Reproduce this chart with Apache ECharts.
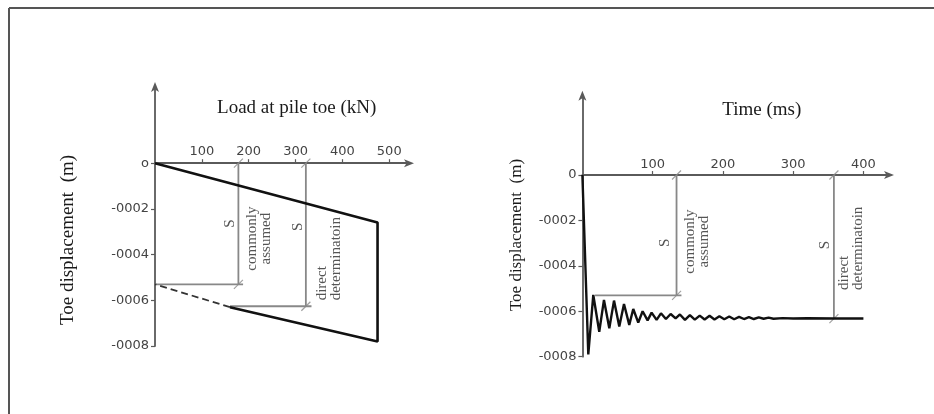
<!DOCTYPE html>
<html><head><meta charset="utf-8">
<script src="https://cdn.jsdelivr.net/npm/echarts@6/dist/echarts.min.js"></script>
<style>html,body{margin:0;padding:0;background:#fff}#c{width:934px;height:414px}</style>
</head><body><div id="c"></div>
<script>
// ---- data ----
const leftXTicks = [100, 200, 300, 400, 500];
const rightXTicks = [100, 200, 300, 400];
const yTickValues = [0, -0.0002, -0.0004, -0.0006, -0.0008];
const leftYLabels = ['o', '-0002', '-0004', '-0006', '-0008'];
const rightYLabels = ['0', '-0002', '-0004', '-0006', '-0008'];

// left chart: load at pile toe (kN) vs toe displacement (m)
const leftLoad = [0, 475, 475, 160];
const leftDisp = [0, -0.00026, -0.00078, -0.00063];
const leftDashLoad = [160, 0];
const leftDashDisp = [-0.00063, -0.00053];
// annotation guide lines (left)
const leftGuideA = [[178, 0], [178, -0.00053]];
const leftGuideB = [[0, -0.00053], [188, -0.00053]];
const leftGuideC = [[322, 0], [322, -0.000626]];
const leftGuideD = [[160, -0.000626], [334, -0.000626]];
const leftSlashes = [[178, 0], [178, -0.00053], [322, 0], [322, -0.000626]];

// right chart: time (ms) vs toe displacement (m)
const rightT = [0,1.5,8.4,15.5,24,30.7,38.3,45,52.5,59.2,66.7,72.4,79.5,85.7,92.8,98.5,105.6,111.8,118.9,125.6,132.7,138.8,146,153,160,167,174,181,188,195,202,209,216,223,230,237,244,251,258,265,272,285,300,320,358,400];
const rightV = [0,0,-0.00079,-0.000528,-0.00069,-0.00055,-0.000675,-0.000553,-0.000667,-0.000568,-0.00066,-0.00059,-0.00065,-0.0006,-0.00064,-0.000606,-0.000638,-0.000609,-0.000634,-0.000612,-0.000631,-0.000614,-0.000638,-0.000617,-0.000637,-0.000619,-0.000636,-0.00062,-0.000636,-0.000622,-0.000635,-0.000623,-0.000635,-0.000625,-0.000634,-0.000626,-0.000634,-0.000627,-0.000633,-0.000628,-0.000633,-0.00063,-0.000632,-0.000631,-0.000632,-0.000632];
const rightGuideA = [[134, 0], [134, -0.00053]];
const rightGuideB = [[18, -0.00053], [141, -0.00053]];
const rightGuideC = [[358, 0], [358, -0.000632]];
const rightSlashes = [[134, 0], [134, -0.00053], [358, 0], [358, -0.000632]];

// annotation texts: [x, y, text, align]
const leftNotes = [
  [160, -0.000264, 'S', 'center'],
  [222, -0.00033, 'commonly\nassumed', 'center'],
  [306, -0.000279, 'S', 'center'],
  [371, -0.0006, 'direct\ndeterminatoin', 'left']
];
const rightNotes = [
  [117.5, -0.000298, 'S', 'center'],
  [162.6, -0.000293, 'commonly\nassumed', 'center'],
  [345, -0.000308, 'S', 'center'],
  [381.8, -0.000506, 'direct\ndeterminatoin', 'left']
];

const leftXTitle = 'Load at pile toe (kN)';
const rightXTitle = 'Time (ms)';
const yTitle = 'Toe displacement  (m)';

// ---- chart ----
const SERIF = '"Liberation Serif","DejaVu Serif",serif';
const SANS = '"DejaVu Sans",sans-serif';
const axisCol = '#5a5a5a';
const guideCol = '#888';

const grids = [
  { left: 155, right: 526, top: 88, bottom: 68 },
  { left: 582.4, right: 46, top: 96.7, bottom: 57.3 }
];
const yMin = -0.0008;
const yMax = [0.000329, 0.000345];
function zeroOffset(i) {
  const h = 414 - grids[i].top - grids[i].bottom;
  return -(0 - yMin) / (yMax[i] - yMin) * h;
}

function yLabelFmt(labels) {
  return function (v) {
    const i = yTickValues.findIndex(t => Math.abs(t - v) < 1e-9);
    return i >= 0 ? labels[i] : '';
  };
}
function xAxisCfg(idx, max, ticks, margin) {
  return {
    type: 'value', gridIndex: idx, min: 0, max: max, interval: 100,
    position: 'bottom', offset: zeroOffset(idx),
    splitLine: { show: false },
    axisLine: { onZero: false, symbol: ['none', 'arrow'], symbolSize: [6, 10], symbolOffset: [0, 6],
      lineStyle: { color: axisCol, width: 1.8 } },
    axisTick: { inside: true, length: 4, customValues: ticks, lineStyle: { color: axisCol, width: 1.2 } },
    axisLabel: { inside: true, margin: margin, customValues: ticks, color: '#444', fontFamily: SANS, fontSize: 13 }
  };
}
function yAxisCfg(idx, labels) {
  return {
    type: 'value', gridIndex: idx, min: yMin, max: yMax[idx],
    splitLine: { show: false },
    axisLine: { show: true, onZero: false, symbol: ['none', 'arrow'], symbolSize: [6, 10], symbolOffset: [0, 6],
      lineStyle: { color: axisCol, width: 1.8 } },
    axisTick: { show: true, length: 4, customValues: yTickValues, lineStyle: { color: axisCol, width: 1.2 } },
    axisLabel: { margin: 6, customValues: yTickValues, formatter: yLabelFmt(labels), color: '#444', fontFamily: SANS, fontSize: 13 }
  };
}
function guide(idx, data) {
  return { type: 'line', xAxisIndex: idx, yAxisIndex: idx, data: data, symbol: 'none', silent: true,
    lineStyle: { color: guideCol, width: 1.8 }, z: 3 };
}
function slashes(idx, data) {
  return { type: 'scatter', xAxisIndex: idx, yAxisIndex: idx, data: data, silent: true,
    symbol: 'path://M0,10L10,0', symbolSize: 9,
    itemStyle: { color: 'rgba(0,0,0,0)', borderColor: guideCol, borderWidth: 1.2 }, z: 4 };
}
function notes(idx, list) {
  return { type: 'scatter', xAxisIndex: idx, yAxisIndex: idx, symbolSize: 0, silent: true,
    data: list.map(n => ({ value: [n[0], n[1]],
      label: { show: true, position: 'inside', rotate: 90, formatter: n[2], align: n[3], verticalAlign: 'middle',
        fontFamily: SERIF, fontSize: 15, lineHeight: 14, color: '#2a2a2a' } })),
    z: 5 };
}
const zip = (a, b) => a.map((v, i) => [v, b[i]]);

const chart = echarts.init(document.getElementById('c'), null, { renderer: 'canvas' });
chart.setOption({
  animation: false,
  backgroundColor: '#fff',
  grid: grids,
  xAxis: [xAxisCfg(0, 540, leftXTicks, 5), xAxisCfg(1, 435, rightXTicks, 4)],
  yAxis: [yAxisCfg(0, leftYLabels), yAxisCfg(1, rightYLabels)],
  graphic: [
    { type: 'line', shape: { x1: 9, y1: 8, x2: 934, y2: 8 }, style: { stroke: '#555', lineWidth: 2 } },
    { type: 'line', shape: { x1: 9, y1: 8, x2: 9, y2: 414 }, style: { stroke: '#555', lineWidth: 2 } },
    { type: 'text', x: 296.7, y: 107.7, style: { text: leftXTitle, font: '19px ' + SERIF, fill: '#1a1a1a', align: 'center', verticalAlign: 'middle' } },
    { type: 'text', x: 761.7, y: 110, style: { text: rightXTitle, font: '19px ' + SERIF, fill: '#1a1a1a', align: 'center', verticalAlign: 'middle' } },
    { type: 'text', x: 68, y: 240, rotation: Math.PI / 2, style: { text: yTitle, font: '19px ' + SERIF, fill: '#1a1a1a', align: 'center', verticalAlign: 'middle' } },
    { type: 'text', x: 516.7, y: 235, rotation: Math.PI / 2, style: { text: yTitle, font: '17px ' + SERIF, fill: '#1a1a1a', align: 'center', verticalAlign: 'middle' } }
  ],
  series: [
    guide(0, leftGuideA), guide(0, leftGuideB), guide(0, leftGuideC), guide(0, leftGuideD),
    slashes(0, leftSlashes),
    { type: 'line', xAxisIndex: 0, yAxisIndex: 0, data: zip(leftLoad, leftDisp), symbol: 'none',
      lineStyle: { color: '#111', width: 2.6 }, z: 6 },
    { type: 'line', xAxisIndex: 0, yAxisIndex: 0, data: zip(leftDashLoad, leftDashDisp), symbol: 'none',
      lineStyle: { color: '#333', width: 1.8, type: [7, 4] }, z: 6 },
    notes(0, leftNotes),
    guide(1, rightGuideA), guide(1, rightGuideB), guide(1, rightGuideC),
    slashes(1, rightSlashes),
    { type: 'line', xAxisIndex: 1, yAxisIndex: 1, data: zip(rightT, rightV), symbol: 'none',
      lineStyle: { color: '#111', width: 2.4 }, z: 6 },
    notes(1, rightNotes)
  ]
});
</script></body></html>
